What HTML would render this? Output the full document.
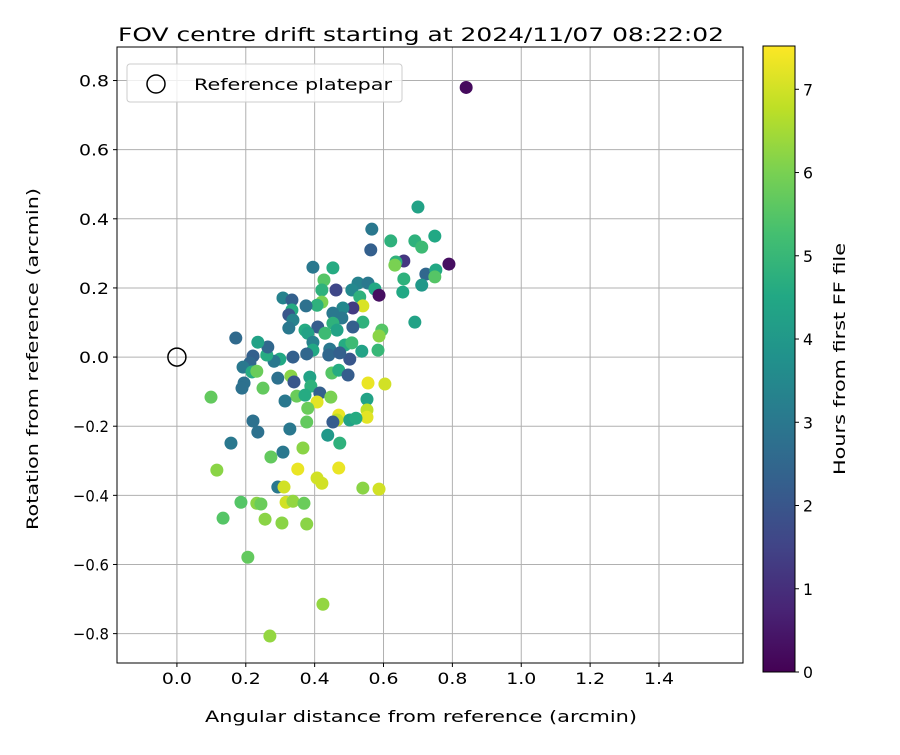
<!DOCTYPE html>
<html><head><meta charset="utf-8"><style>
body{margin:0;background:#fff;}
svg text{font-family:"DejaVu Sans","Liberation Sans",sans-serif;fill:#000;}
</style></head><body>
<svg id="chart" width="900" height="750" xmlns="http://www.w3.org/2000/svg"></svg>
<script>
const xTicks=[0.0,0.2,0.4,0.6,0.8,1.0,1.2,1.4];
const yTicks=[-0.8,-0.6,-0.4,-0.2,0.0,0.2,0.4,0.6,0.8];
const cTicks=[0,1,2,3,4,5,6,7];
const xs=[0.84,0.70,0.566,0.621,0.691,0.711,0.749,0.563,0.659,0.636,0.633,0.790,0.723,0.752,0.749,0.659,0.711,0.656,0.691,0.395,0.453,0.427,0.421,0.462,0.526,0.555,0.575,0.587,0.508,0.531,0.421,0.407,0.308,0.334,0.375,0.540,0.511,0.482,0.453,0.479,0.540,0.511,0.334,0.325,0.337,0.325,0.409,0.453,0.465,0.430,0.372,0.380,0.595,0.587,0.395,0.488,0.508,0.537,0.584,0.444,0.441,0.502,0.473,0.395,0.377,0.337,0.299,0.282,0.261,0.264,0.235,0.221,0.212,0.192,0.218,0.232,0.171,0.331,0.340,0.293,0.386,0.389,0.450,0.470,0.497,0.555,0.604,0.195,0.189,0.250,0.099,0.348,0.372,0.415,0.447,0.407,0.314,0.380,0.552,0.552,0.552,0.470,0.465,0.453,0.502,0.520,0.221,0.235,0.328,0.377,0.438,0.473,0.157,0.308,0.366,0.273,0.116,0.351,0.470,0.407,0.421,0.293,0.311,0.540,0.587,0.186,0.232,0.244,0.317,0.337,0.369,0.134,0.256,0.305,0.377,0.206,0.424,0.270];
const ys=[0.78,0.434,0.370,0.336,0.336,0.318,0.350,0.310,0.278,0.275,0.266,0.269,0.240,0.252,0.232,0.226,0.208,0.188,0.101,0.260,0.258,0.223,0.194,0.194,0.214,0.214,0.197,0.179,0.194,0.174,0.159,0.150,0.171,0.165,0.148,0.148,0.142,0.142,0.127,0.113,0.101,0.087,0.136,0.122,0.107,0.084,0.087,0.098,0.078,0.069,0.078,0.069,0.078,0.061,0.043,0.035,0.041,0.017,0.020,0.023,0.006,-0.006,0.012,0.020,0.009,0.0,-0.006,-0.012,0.006,0.029,0.043,0.003,-0.017,-0.029,-0.043,-0.041,0.055,-0.055,-0.072,-0.061,-0.058,-0.084,-0.046,-0.038,-0.052,-0.075,-0.078,-0.075,-0.090,-0.090,-0.116,-0.113,-0.110,-0.104,-0.116,-0.130,-0.127,-0.148,-0.122,-0.153,-0.174,-0.168,-0.182,-0.188,-0.182,-0.177,-0.185,-0.217,-0.208,-0.188,-0.226,-0.249,-0.249,-0.275,-0.263,-0.289,-0.327,-0.324,-0.321,-0.350,-0.365,-0.376,-0.376,-0.379,-0.382,-0.420,-0.423,-0.425,-0.420,-0.417,-0.423,-0.466,-0.469,-0.480,-0.483,-0.579,-0.715,-0.807];
const hours=[0.2,4.3,3.0,4.8,4.8,5.1,4.5,2.3,1.2,4.8,6.0,0.3,2.5,4.5,5.5,4.8,4.0,4.5,4.3,3.0,4.6,5.5,4.8,1.6,3.3,3.0,4.5,0.3,3.5,4.8,6.0,4.8,3.3,2.3,2.8,7.1,1.3,3.5,3.0,3.0,4.8,2.3,4.6,2.0,3.3,3.0,2.2,4.8,4.3,5.1,4.6,4.3,5.5,6.2,3.3,4.6,5.1,4.3,5.0,3.0,2.5,2.0,2.3,4.5,2.5,2.3,4.5,3.0,4.6,2.5,4.3,2.3,2.5,3.0,4.6,5.8,2.6,6.2,2.0,2.8,4.3,4.8,5.5,4.6,2.2,7.3,7.0,2.8,2.8,5.7,5.7,5.8,4.6,2.3,6.0,7.2,3.0,5.8,4.3,6.8,7.2,7.3,6.8,2.2,4.3,4.6,2.8,2.8,3.0,5.7,4.0,4.8,3.0,3.0,6.2,5.7,6.2,7.3,7.3,7.0,7.0,3.0,7.0,6.2,7.0,5.5,6.2,5.8,7.0,6.3,5.8,5.5,6.2,6.2,6.2,5.7,6.3,6.3];

const NS="http://www.w3.org/2000/svg";
const svg=document.getElementById('chart');
function mk(tag,attrs,parent){const e=document.createElementNS(NS,tag);for(const k in attrs)e.setAttribute(k,attrs[k]);(parent||svg).appendChild(e);return e;}
function fit(e,len){e.setAttribute('textLength',len);e.setAttribute('lengthAdjust','spacingAndGlyphs');}
const L=117,R=743,T=47,B=663;
const xMin=-0.174,xMax=1.644,yMin=-0.885,yMax=0.897;
const sx=v=>L+(v-xMin)/(xMax-xMin)*(R-L);
const sy=v=>B-(v-yMin)/(yMax-yMin)*(B-T);
const cMax=7.52,cT=46,cB=672;
const sc=v=>cB-v/cMax*(cB-cT);
const vir=["#440154","#482475","#414487","#355f8d","#2a788e","#21918c","#22a884","#44bf70","#7ad151","#bddf26","#fde725"];
function hex(h){return [1,3,5].map(i=>parseInt(h.substr(i,2),16));}
function color(v){let t=Math.max(0,Math.min(1,v/cMax))*10;let i=Math.min(9,Math.floor(t));let f=t-i;const a=hex(vir[i]),b=hex(vir[i+1]);return 'rgb('+a.map((c,k)=>Math.round(c+(b[k]-c)*f)).join(',')+')';}

let t=mk('text',{x:118,y:41,'font-size':'19'});t.textContent='FOV centre drift starting at 2024/11/07 08:22:02';fit(t,606);


const grid=mk('g',{});
xTicks.forEach(v=>{
  const gl=mk('line',{x1:sx(v),x2:sx(v),y1:T,y2:B,stroke:'#b0b0b0','stroke-width':1},grid);
  
  const tk=mk('line',{x1:sx(v),x2:sx(v),y1:B,y2:B+4,stroke:'#000'});
  
  const tl=mk('text',{x:sx(v)-15,y:B+21,'font-size':'16'});tl.textContent=v.toFixed(1);fit(tl,30);
  
});
yTicks.forEach(v=>{
  const gl=mk('line',{x1:L,x2:R,y1:sy(v),y2:sy(v),stroke:'#b0b0b0','stroke-width':1},grid);
  
  const tk=mk('line',{x1:L-4,x2:L,y1:sy(v),y2:sy(v),stroke:'#000'});
  
  const w=v<0?36:30;
  const tl=mk('text',{x:L-8-w,y:sy(v)+6,'font-size':'16'});tl.textContent=(v<0?'\u2212':'')+Math.abs(v).toFixed(1);fit(tl,w);
  
});

const pts=mk('g',{});
xs.forEach((x,i)=>{
  const c=mk('circle',{cx:sx(x),cy:sy(ys[i]),r:6.5,fill:color(hours[i])},pts);
  
});
const ref=mk('circle',{cx:sx(0),cy:sy(0),r:9,fill:'none',stroke:'#000','stroke-width':1.5});


const fr=mk('rect',{x:L,y:T,width:R-L,height:B-T,fill:'none',stroke:'#000','stroke-width':1});


const lg=mk('g',{});
mk('rect',{x:127,y:64,width:275,height:38,rx:3,fill:'#fff','fill-opacity':0.8,stroke:'#ccc'},lg);
mk('circle',{cx:156,cy:84,r:9,fill:'none',stroke:'#000','stroke-width':1.5},lg);
const lt=mk('text',{x:194,y:90,'font-size':'16'},lg);lt.textContent='Reference platepar';fit(lt,198);


const xl=mk('text',{x:205,y:722,'font-size':'16'});xl.textContent='Angular distance from reference (arcmin)';fit(xl,432);

const yl=mk('text',{x:0,y:0,'font-size':'16',transform:'translate(38,530) rotate(-90)'});yl.textContent='Rotation from reference (arcmin)';fit(yl,342);


const cb=mk('g',{});
const defs=mk('defs',{});
const gr=mk('linearGradient',{id:'vg',x1:0,y1:1,x2:0,y2:0},defs);
vir.forEach((c,i)=>mk('stop',{offset:(i/10),'stop-color':c},gr));
mk('rect',{x:763,y:cT,width:32,height:cB-cT,fill:'url(#vg)',stroke:'#000','stroke-width':1},cb);
cTicks.forEach(v=>{
  const tk=mk('line',{x1:795,x2:799,y1:sc(v),y2:sc(v),stroke:'#000'},cb);
  
  const tl=mk('text',{x:803,y:sc(v)+6,'font-size':'16'},cb);tl.textContent=v;fit(tl,10);
  
});
const cl=mk('text',{x:0,y:0,'font-size':'16',transform:'translate(845,475) rotate(-90)'});cl.textContent='Hours from first FF file';fit(cl,232);

</script>
</body></html>
